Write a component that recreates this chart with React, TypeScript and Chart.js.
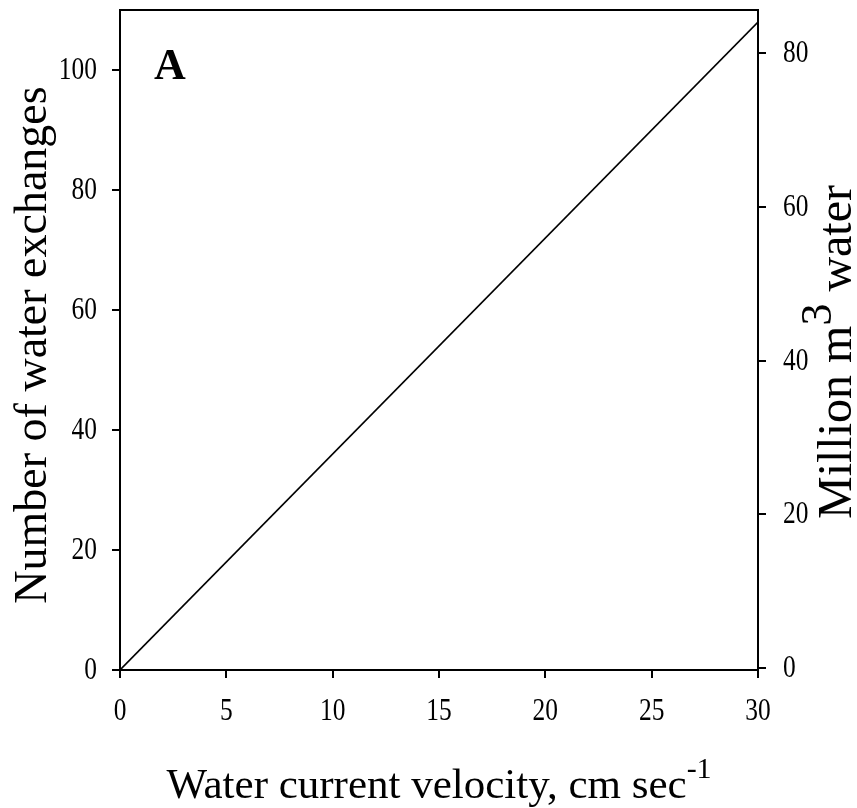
import React, { useEffect, useRef } from "react";
import { Chart, registerables } from "chart.js";

Chart.register(...registerables);

const velocity = [0, 30];
const exchanges = [0, 108];
const xTicks = [0, 5, 10, 15, 20, 25, 30];
const leftTicks = [0, 20, 40, 60, 80, 100];
const rightTicks = [0, 20, 40, 60, 80];

const FONT = '"Liberation Serif", "Times New Roman", serif';
const TICK_SIZE = 31;
const TICK_SX = 0.82;

function drawSup(
  ctx: CanvasRenderingContext2D,
  main: string,
  sup: string,
  after: string,
  cx: number,
  base: number,
  size: number,
  supSize: number,
  raise: number
) {
  ctx.font = `${size}px ${FONT}`;
  const w1 = ctx.measureText(main).width;
  const w3 = after ? ctx.measureText(after).width : 0;
  ctx.font = `${supSize}px ${FONT}`;
  const w2 = sup ? ctx.measureText(sup).width : 0;
  const total = w1 + w2 + w3;
  const start = cx - total / 2;
  ctx.textAlign = "left";
  ctx.textBaseline = "alphabetic";
  ctx.font = `${size}px ${FONT}`;
  ctx.fillText(main, start, base);
  if (sup) {
    ctx.font = `${supSize}px ${FONT}`;
    ctx.fillText(sup, start + w1, base - raise);
  }
  if (after) {
    ctx.font = `${size}px ${FONT}`;
    ctx.fillText(after, start + w1 + w2, base);
  }
}

function drawTickLabel(
  ctx: CanvasRenderingContext2D,
  text: string,
  x: number,
  y: number,
  align: CanvasTextAlign
) {
  ctx.save();
  ctx.translate(x, y);
  ctx.scale(TICK_SX, 1);
  ctx.font = `${TICK_SIZE}px ${FONT}`;
  ctx.textAlign = align;
  ctx.textBaseline = "middle";
  ctx.fillText(text, 0, 0);
  ctx.restore();
}

const decorPlugin = {
  id: "decor",
  afterDraw(chart: any) {
    const ctx: CanvasRenderingContext2D = chart.ctx;
    const { left, right, top, bottom } = chart.chartArea;
    ctx.save();
    ctx.strokeStyle = "#000";
    ctx.lineWidth = 2;
    ctx.beginPath();
    ctx.moveTo(left - 1, top);
    ctx.lineTo(right + 1, top);
    ctx.stroke();
    ctx.fillStyle = "#000";

    // tick labels placed through the chart's scales
    const xs = chart.scales.x;
    xs.ticks.forEach((t: any) => {
      drawTickLabel(ctx, String(t.value), xs.getPixelForValue(t.value), bottom + 42, "center");
    });
    const ys = chart.scales.y;
    ys.ticks.forEach((t: any) => {
      drawTickLabel(ctx, String(t.value), left - 23, ys.getPixelForValue(t.value) + 1, "right");
    });
    const y2 = chart.scales.y2;
    y2.ticks.forEach((t: any) => {
      drawTickLabel(ctx, String(t.value), right + 25, y2.getPixelForValue(t.value) + 1, "left");
    });

    ctx.font = `bold 44px ${FONT}`;
    ctx.textAlign = "left";
    ctx.textBaseline = "alphabetic";
    ctx.fillText("A", left + 34, top + 69);

    const cx = (left + right) / 2;
    const cy = (top + bottom) / 2;
    drawSup(ctx, "Water current velocity, cm sec", "-1", "", cx, bottom + 128, 43, 30, 20);
    ctx.save();
    ctx.translate(46, cy + 5);
    ctx.rotate(-Math.PI / 2);
    drawSup(ctx, "Number of water exchanges", "", "", 0, 0, 46, 34, 18);
    ctx.restore();
    ctx.save();
    ctx.translate(851, cy + 12);
    ctx.rotate(-Math.PI / 2);
    drawSup(ctx, "Million m", "3", " water", 0, 0, 48, 44, 20);
    ctx.restore();
    ctx.restore();
  },
};

export default function App() {
  const ref = useRef<HTMLCanvasElement | null>(null);
  useEffect(() => {
    document.body.style.margin = "0";
    const canvas = ref.current;
    if (!canvas) return;
    const axisCommon = {
      grid: {
        display: true,
        drawOnChartArea: false,
        drawTicks: true,
        tickLength: 8,
        color: "#000",
        lineWidth: 2,
      },
      border: { display: true, color: "#000", width: 2 },
    };
    const chart = new Chart(canvas, {
      type: "line",
      data: {
        datasets: [
          {
            data: velocity.map((v, i) => ({ x: v, y: exchanges[i] })),
            borderColor: "#000",
            borderWidth: 1.6,
            pointRadius: 0,
            fill: false,
            tension: 0,
            yAxisID: "y",
          },
        ],
      },
      options: {
        responsive: false,
        animation: false,
        layout: { padding: { top: 10, left: 0, right: 0, bottom: 0 } },
        plugins: { legend: { display: false }, tooltip: { enabled: false } },
        scales: {
          x: {
            type: "linear",
            min: 0,
            max: 30,
            ...axisCommon,
            afterBuildTicks: (s: any) => {
              s.ticks = xTicks.map((v) => ({ value: v }));
            },
            afterFit: (s: any) => {
              s.height = 138;
              s.paddingLeft = 0;
              s.paddingRight = 0;
            },
            ticks: { display: false },
          },
          y: {
            type: "linear",
            position: "left",
            min: 0,
            max: 110,
            ...axisCommon,
            afterBuildTicks: (s: any) => {
              s.ticks = leftTicks.map((v) => ({ value: v }));
            },
            afterFit: (s: any) => {
              s.width = 120;
              s.paddingTop = 0;
              s.paddingBottom = 0;
            },
            ticks: { display: false },
          },
          y2: {
            type: "linear",
            position: "right",
            min: -0.26,
            max: 85.63,
            ...axisCommon,
            afterBuildTicks: (s: any) => {
              s.ticks = rightTicks.map((v) => ({ value: v }));
            },
            afterFit: (s: any) => {
              s.width = 99;
              s.paddingTop = 0;
              s.paddingBottom = 0;
            },
            ticks: { display: false },
          },
        },
      },
      plugins: [decorPlugin],
    } as any);
    return () => chart.destroy();
  }, []);
  return <canvas ref={ref} width={857} height={808} style={{ display: "block" }} />;
}
